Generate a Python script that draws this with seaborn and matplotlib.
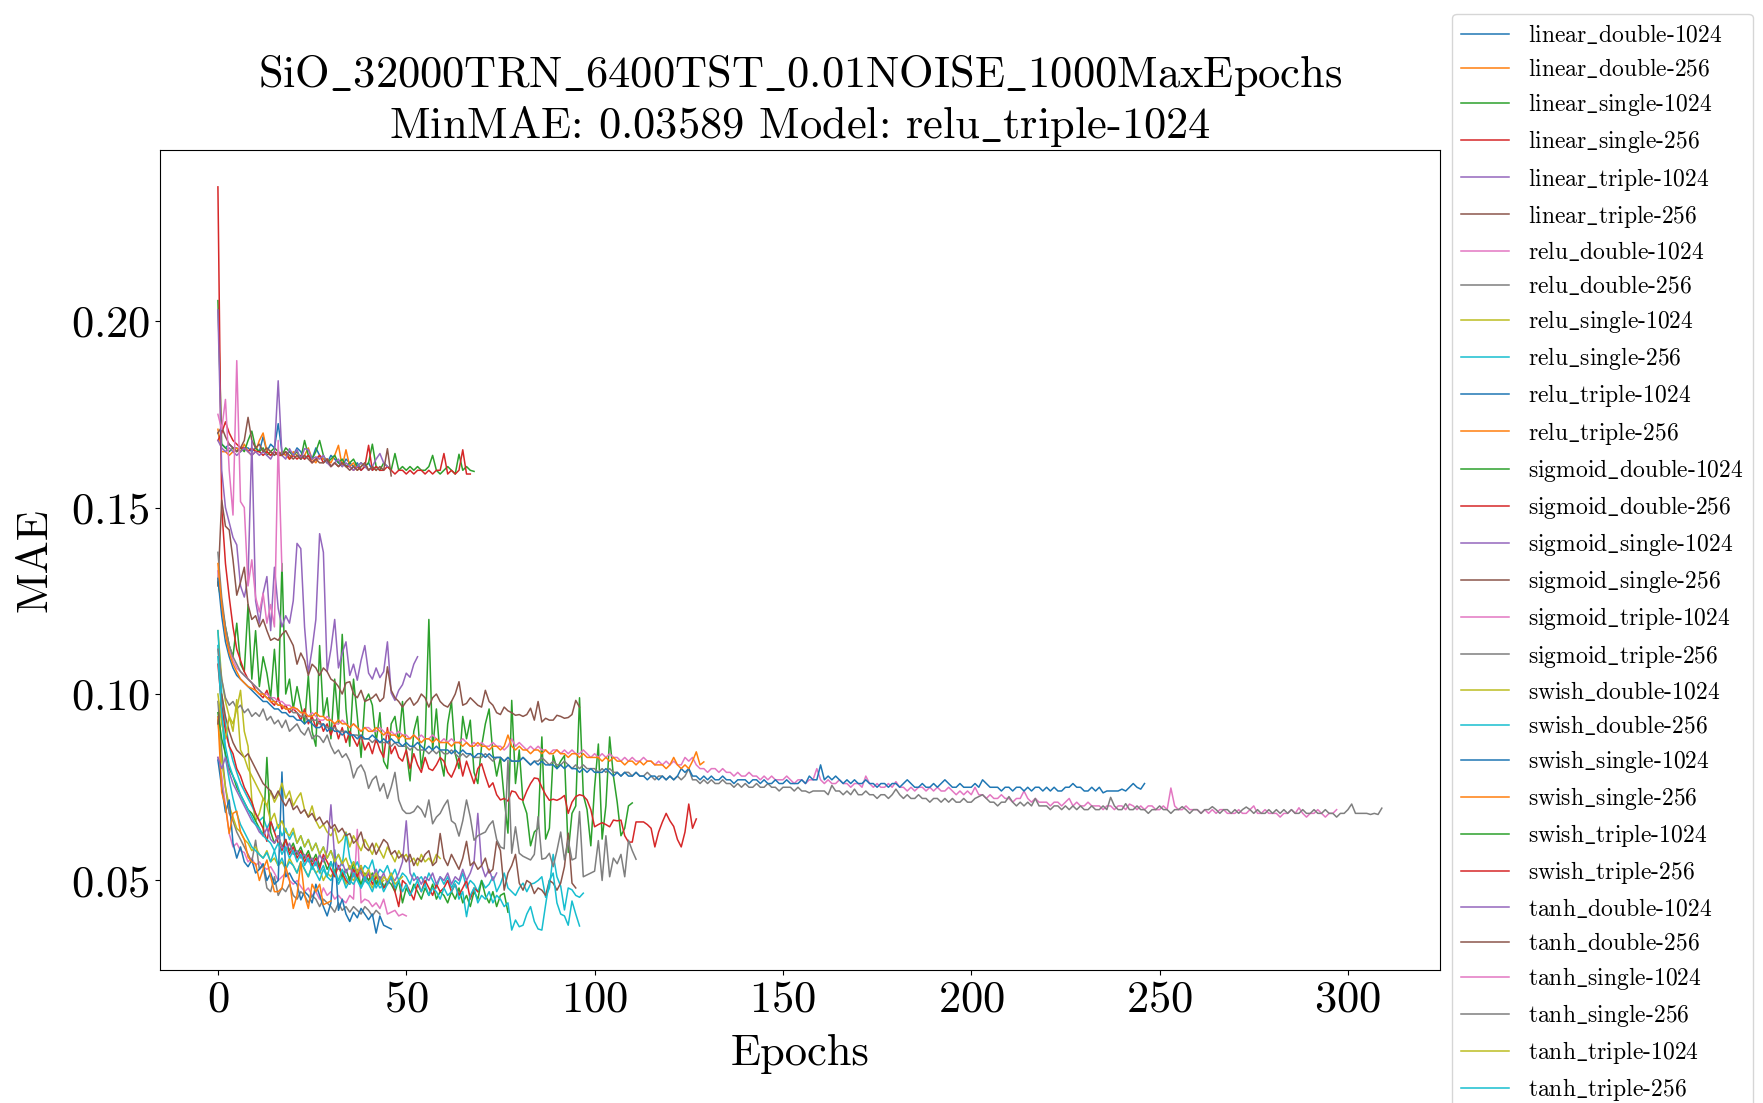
import matplotlib
matplotlib.use("Agg")
import matplotlib.pyplot as plt
from matplotlib.ticker import MultipleLocator
import numpy as np
import pandas as pd
import seaborn as sns

# ---------------------------------------------------------------- data (MAE per epoch)
linear_double_1024 = [0.170, 0.167, 0.166, 0.167, 0.166, 0.166, 0.165, 0.166, 0.166, 0.165,
                      0.166, 0.165, 0.169, 0.165, 0.167, 0.166, 0.1725, 0.165, 0.164, 0.165,
                      0.164, 0.166, 0.165, 0.163, 0.164, 0.163, 0.166, 0.164, 0.163, 0.162,
                      0.164, 0.163, 0.162, 0.161, 0.163, 0.162, 0.161, 0.162, 0.160, 0.161,
                      0.162, 0.160, 0.161, 0.160]
linear_double_256 = [0.171, 0.165, 0.165, 0.164, 0.165, 0.166, 0.165, 0.167, 0.165, 0.164,
                     0.165, 0.168, 0.170, 0.165, 0.164, 0.165, 0.164, 0.165, 0.164, 0.163,
                     0.165, 0.164, 0.163, 0.164, 0.166, 0.163, 0.162, 0.164, 0.163, 0.163,
                     0.162, 0.164, 0.1667, 0.161, 0.1655, 0.161, 0.162, 0.160, 0.161, 0.162,
                     0.160, 0.161, 0.160]
linear_single_1024 = [0.2055, 0.167, 0.166, 0.165, 0.166, 0.165, 0.166, 0.165, 0.168, 0.1705,
                      0.166, 0.165, 0.166, 0.164, 0.165, 0.166, 0.165, 0.164, 0.166, 0.165,
                      0.164, 0.165, 0.163, 0.168, 0.164, 0.163, 0.165, 0.168, 0.164, 0.162,
                      0.163, 0.164, 0.162, 0.163, 0.161, 0.162, 0.163, 0.161, 0.162, 0.161,
                      0.162, 0.167, 0.161, 0.160, 0.162, 0.161, 0.160, 0.1645, 0.160, 0.161,
                      0.160, 0.161, 0.160, 0.161, 0.160, 0.160, 0.161, 0.164, 0.160, 0.159,
                      0.160, 0.161, 0.160, 0.159, 0.1643, 0.160, 0.161, 0.160, 0.1597]
linear_single_256 = [0.168, 0.170, 0.173, 0.170, 0.168, 0.167, 0.166, 0.166, 0.165, 0.166,
                     0.165, 0.165, 0.164, 0.165, 0.164, 0.165, 0.164, 0.164, 0.165, 0.163,
                     0.164, 0.163, 0.164, 0.163, 0.164, 0.162, 0.163, 0.164, 0.162, 0.163,
                     0.161, 0.162, 0.161, 0.162, 0.161, 0.161, 0.160, 0.161, 0.160, 0.161,
                     0.1667, 0.160, 0.161, 0.160, 0.160, 0.161, 0.160, 0.159, 0.160, 0.160,
                     0.159, 0.160, 0.159, 0.160, 0.160, 0.159, 0.160, 0.159, 0.160, 0.160,
                     0.1645, 0.159, 0.160, 0.159, 0.160, 0.1655, 0.159, 0.159]
linear_triple_1024 = [0.168, 0.166, 0.165, 0.166, 0.165, 0.164, 0.165, 0.166, 0.165, 0.164,
                      0.165, 0.164, 0.165, 0.164, 0.163, 0.165, 0.184, 0.164, 0.163, 0.1658,
                      0.164, 0.1655, 0.163, 0.1658, 0.1655, 0.163, 0.1636, 0.163, 0.164, 0.162,
                      0.161, 0.162, 0.163, 0.161, 0.162, 0.161, 0.160, 0.161, 0.162, 0.161,
                      0.160, 0.161, 0.163, 0.1645, 0.162, 0.161]
linear_triple_256 = [0.170, 0.1716, 0.169, 0.167, 0.166, 0.165, 0.166, 0.168, 0.1742, 0.168,
                     0.166, 0.167, 0.165, 0.166, 0.165, 0.164, 0.165, 0.164, 0.165, 0.164,
                     0.163, 0.164, 0.163, 0.164, 0.163, 0.162, 0.163, 0.162, 0.162, 0.163,
                     0.161, 0.162, 0.161, 0.162, 0.161, 0.160, 0.161, 0.160, 0.161, 0.162,
                     0.160, 0.161, 0.160, 0.161, 0.160, 0.1658, 0.1585]
relu_double_1024 = [0.083, 0.078, 0.070, 0.0626, 0.059, 0.060, 0.058, 0.0575, 0.055, 0.056,
                    0.054, 0.055, 0.0537, 0.053, 0.0537, 0.052, 0.050, 0.051, 0.052, 0.050,
                    0.049, 0.050, 0.0484, 0.047, 0.048, 0.046, 0.047, 0.045, 0.048, 0.046,
                    0.047, 0.045, 0.046, 0.0448, 0.044, 0.046, 0.045, 0.0637, 0.044, 0.045,
                    0.0445, 0.043, 0.044, 0.0425, 0.045, 0.041, 0.0415, 0.042, 0.0405, 0.041,
                    0.0405]
relu_double_256 = [0.098, 0.085, 0.075, 0.068, 0.066, 0.063, 0.061, 0.059, 0.057, 0.055,
                   0.0608, 0.053, 0.054, 0.048, 0.047, 0.051, 0.046, 0.048, 0.047, 0.049,
                   0.046, 0.045, 0.047, 0.046, 0.044, 0.046, 0.045, 0.043, 0.045, 0.044,
                   0.043, 0.0415, 0.044, 0.042, 0.043, 0.0415, 0.043, 0.042, 0.041, 0.043,
                   0.042, 0.0405, 0.042, 0.041]
relu_single_1024 = [0.093, 0.082, 0.075, 0.070, 0.067, 0.064, 0.063, 0.061, 0.060, 0.058,
                    0.059, 0.057, 0.056, 0.058, 0.055, 0.056, 0.054, 0.055, 0.053, 0.056,
                    0.054, 0.052, 0.055, 0.053, 0.051, 0.054, 0.052, 0.053, 0.050, 0.052,
                    0.051, 0.053, 0.050, 0.052, 0.049, 0.051, 0.050, 0.052, 0.049, 0.051,
                    0.050, 0.048, 0.051, 0.049, 0.050]
relu_single_256 = [0.113, 0.094, 0.083, 0.077, 0.072, 0.068, 0.065, 0.063, 0.061, 0.059,
                   0.058, 0.057, 0.056, 0.0575, 0.055, 0.058, 0.054, 0.056, 0.053, 0.055,
                   0.054, 0.052, 0.055, 0.053, 0.051, 0.054, 0.052, 0.050, 0.053, 0.051,
                   0.050, 0.052, 0.049, 0.051, 0.048, 0.050, 0.049, 0.051, 0.048, 0.050,
                   0.049, 0.047, 0.050, 0.048, 0.049]
relu_triple_1024 = [0.0823, 0.075, 0.0683, 0.0716, 0.060, 0.056, 0.059, 0.055, 0.0537, 0.0555,
                    0.052, 0.053, 0.0545, 0.050, 0.052, 0.049, 0.050, 0.0791, 0.051, 0.052,
                    0.050, 0.049, 0.0448, 0.047, 0.046, 0.044, 0.049, 0.046, 0.043, 0.0405,
                    0.044, 0.0582, 0.042, 0.045, 0.041, 0.039, 0.0415, 0.040, 0.0425, 0.041,
                    0.0395, 0.041, 0.03589, 0.0405, 0.038, 0.0375, 0.037]
relu_triple_256 = [0.0939, 0.0737, 0.070, 0.0626, 0.068, 0.0686, 0.063, 0.061, 0.0563, 0.055,
                   0.0545, 0.050, 0.053, 0.0555, 0.051, 0.0470, 0.047, 0.048, 0.0537, 0.050,
                   0.0425, 0.046, 0.055, 0.046, 0.0425, 0.049, 0.047, 0.049, 0.0435, 0.044,
                   0.0445]
sigmoid_double_1024 = [0.130, 0.124, 0.118, 0.113, 0.110, 0.119, 0.108, 0.106, 0.124, 0.104,
                       0.117, 0.102, 0.110, 0.1056, 0.099, 0.112, 0.098, 0.135, 0.100, 0.104,
                       0.096, 0.102, 0.097, 0.092, 0.105, 0.090, 0.086, 0.113, 0.094, 0.099,
                       0.088, 0.104, 0.092, 0.116, 0.096, 0.086, 0.104, 0.094, 0.083, 0.098,
                       0.100, 0.097, 0.087, 0.095, 0.082, 0.080, 0.092, 0.094, 0.087, 0.098,
                       0.085, 0.0767, 0.090, 0.094, 0.080, 0.087, 0.120, 0.085, 0.096, 0.083,
                       0.078, 0.092, 0.098, 0.084, 0.080, 0.094, 0.088, 0.093, 0.079, 0.076,
                       0.086, 0.092, 0.096, 0.084, 0.078, 0.083, 0.072, 0.0627, 0.0983, 0.076,
                       0.085, 0.071, 0.068, 0.0593, 0.063, 0.064, 0.0885, 0.0611, 0.064, 0.0836,
                       0.080, 0.082, 0.0835, 0.0575, 0.068, 0.070, 0.099, 0.073, 0.069, 0.0593,
                       0.075, 0.0866, 0.0611, 0.070, 0.0885, 0.078, 0.071, 0.062, 0.064, 0.070,
                       0.0708]
sigmoid_double_256 = [0.236, 0.150, 0.135, 0.126, 0.118, 0.112, 0.109, 0.106, 0.104, 0.103,
                      0.101, 0.100, 0.099, 0.101, 0.098, 0.097, 0.099, 0.096, 0.097, 0.095,
                      0.096, 0.095, 0.093, 0.096, 0.092, 0.094, 0.091, 0.093, 0.090, 0.092,
                      0.089, 0.092, 0.088, 0.091, 0.087, 0.090, 0.088, 0.086, 0.089, 0.085,
                      0.087, 0.084, 0.088, 0.085, 0.083, 0.091, 0.084, 0.086, 0.083, 0.082,
                      0.085, 0.080, 0.084, 0.081, 0.079, 0.083, 0.080, 0.0795, 0.081, 0.083,
                      0.082, 0.079, 0.0777, 0.080, 0.083, 0.078, 0.082, 0.079, 0.076, 0.080,
                      0.0813, 0.078, 0.075, 0.0762, 0.073, 0.0716, 0.072, 0.0713, 0.074, 0.0737,
                      0.072, 0.0715, 0.074, 0.076, 0.0775, 0.0773, 0.075, 0.073, 0.0715, 0.0718,
                      0.0715, 0.072, 0.0728, 0.068, 0.071, 0.0725, 0.073, 0.0727, 0.0716, 0.069,
                      0.0644, 0.065, 0.0655, 0.065, 0.0644, 0.0662, 0.066, 0.0662, 0.062, 0.0603,
                      0.0603, 0.0657, 0.0657, 0.0657, 0.065, 0.064, 0.059, 0.063, 0.0657, 0.068,
                      0.066, 0.0645, 0.061, 0.059, 0.063, 0.0705, 0.064, 0.0665]
sigmoid_single_1024 = [0.203, 0.160, 0.150, 0.146, 0.142, 0.140, 0.129, 0.126, 0.131, 0.168,
                       0.125, 0.119, 0.127, 0.1315, 0.117, 0.134, 0.123, 0.118, 0.121, 0.119,
                       0.125, 0.1404, 0.139, 0.118, 0.1056, 0.112, 0.120, 0.143, 0.138, 0.106,
                       0.112, 0.120, 0.107, 0.111, 0.114, 0.105, 0.108, 0.1037, 0.109, 0.113,
                       0.1056, 0.104, 0.107, 0.1044, 0.106, 0.114, 0.1003, 0.0983, 0.101, 0.1025,
                       0.1056, 0.1045, 0.108, 0.110]
sigmoid_single_256 = [0.129, 0.152, 0.145, 0.144, 0.136, 0.1265, 0.130, 0.134, 0.124, 0.120,
                      0.121, 0.118, 0.120, 0.117, 0.1144, 0.115, 0.1144, 0.116, 0.117, 0.115,
                      0.113, 0.108, 0.111, 0.109, 0.105, 0.108, 0.107, 0.105, 0.107, 0.106,
                      0.104, 0.1033, 0.102, 0.100, 0.103, 0.1033, 0.100, 0.099, 0.101, 0.098,
                      0.0985, 0.099, 0.100, 0.098, 0.099, 0.1073, 0.101, 0.099, 0.098, 0.0965,
                      0.098, 0.099, 0.097, 0.098, 0.100, 0.099, 0.0965, 0.099, 0.100, 0.098,
                      0.097, 0.0965, 0.098, 0.100, 0.1033, 0.097, 0.0975, 0.099, 0.098, 0.097,
                      0.0965, 0.101, 0.098, 0.097, 0.095, 0.0945, 0.0965, 0.0955, 0.095, 0.0943,
                      0.0945, 0.094, 0.0945, 0.0962, 0.093, 0.098, 0.0925, 0.0935, 0.093, 0.093,
                      0.0943, 0.094, 0.0935, 0.0937, 0.0945, 0.0983, 0.0965]
sigmoid_triple_1024 = [0.133, 0.124, 0.117, 0.112, 0.109, 0.107, 0.106, 0.105, 0.104, 0.103,
                       0.102, 0.101, 0.100, 0.100, 0.099, 0.099, 0.098, 0.098, 0.097, 0.097,
                       0.096, 0.096, 0.095, 0.095, 0.094, 0.095, 0.094, 0.093, 0.093, 0.094,
                       0.093, 0.092, 0.092, 0.093, 0.092, 0.091, 0.092, 0.091, 0.090, 0.091,
                       0.091, 0.090, 0.090, 0.091, 0.090, 0.089, 0.090, 0.089, 0.090, 0.089,
                       0.089, 0.088, 0.089, 0.088, 0.089, 0.088, 0.088, 0.089, 0.088, 0.087,
                       0.088, 0.087, 0.088, 0.087, 0.087, 0.088, 0.087, 0.086, 0.087, 0.086,
                       0.087, 0.086, 0.086, 0.087, 0.086, 0.086, 0.085, 0.086, 0.088, 0.086,
                       0.087, 0.086, 0.085, 0.086, 0.085, 0.086, 0.085, 0.085, 0.084, 0.085,
                       0.085, 0.084, 0.085, 0.084, 0.085, 0.084, 0.084, 0.085, 0.084, 0.083,
                       0.084, 0.083, 0.084, 0.083, 0.084, 0.083, 0.083, 0.082, 0.083, 0.082,
                       0.083, 0.082, 0.082, 0.083, 0.082, 0.082, 0.081, 0.082, 0.081, 0.082,
                       0.081, 0.082, 0.081, 0.081, 0.083, 0.082, 0.083, 0.081, 0.080, 0.080,
                       0.079, 0.080, 0.080, 0.079, 0.080, 0.079, 0.079, 0.078, 0.079, 0.078,
                       0.078, 0.079, 0.078, 0.078, 0.077, 0.078, 0.077, 0.078, 0.077, 0.077,
                       0.077, 0.078, 0.077, 0.076, 0.077, 0.077, 0.076, 0.077, 0.077, 0.080,
                       0.077, 0.076, 0.077, 0.076, 0.076, 0.077, 0.076, 0.076, 0.075, 0.076,
                       0.076, 0.075, 0.078, 0.076, 0.075, 0.076, 0.075, 0.075, 0.076, 0.075,
                       0.0765, 0.075, 0.075, 0.074, 0.075, 0.074, 0.075, 0.075, 0.074, 0.075,
                       0.074, 0.075, 0.074, 0.074, 0.075, 0.074, 0.073, 0.074, 0.073, 0.074,
                       0.073, 0.075, 0.073, 0.073, 0.072, 0.073, 0.072, 0.072, 0.073, 0.072,
                       0.072, 0.071, 0.072, 0.072, 0.074, 0.072, 0.071, 0.072, 0.071, 0.071,
                       0.071, 0.070, 0.071, 0.071, 0.070, 0.071, 0.072, 0.070, 0.071, 0.070,
                       0.070, 0.071, 0.070, 0.070, 0.070, 0.069, 0.070, 0.070, 0.069, 0.070,
                       0.070, 0.069, 0.0705, 0.070, 0.069, 0.070, 0.069, 0.070, 0.070, 0.069,
                       0.069, 0.070, 0.069, 0.0748, 0.070, 0.069, 0.069, 0.070, 0.069, 0.069,
                       0.069, 0.068, 0.069, 0.068, 0.069, 0.068, 0.069, 0.069, 0.068, 0.068,
                       0.068, 0.069, 0.068, 0.068, 0.069, 0.070, 0.068, 0.068, 0.069, 0.068,
                       0.068, 0.068, 0.067, 0.068, 0.068, 0.069, 0.068, 0.0695, 0.068, 0.067,
                       0.068, 0.068, 0.069, 0.068, 0.067, 0.068, 0.068, 0.069]
sigmoid_triple_256 = [0.138, 0.126, 0.118, 0.113, 0.110, 0.108, 0.106, 0.105, 0.104, 0.103,
                      0.102, 0.101, 0.100, 0.099, 0.099, 0.098, 0.097, 0.097, 0.096, 0.096,
                      0.095, 0.095, 0.094, 0.094, 0.093, 0.093, 0.093, 0.092, 0.092, 0.091,
                      0.091, 0.091, 0.090, 0.090, 0.090, 0.089, 0.089, 0.089, 0.088, 0.088,
                      0.088, 0.087, 0.088, 0.087, 0.087, 0.087, 0.086, 0.087, 0.086, 0.086,
                      0.086, 0.085, 0.086, 0.085, 0.085, 0.085, 0.084, 0.085, 0.084, 0.085,
                      0.084, 0.084, 0.085, 0.084, 0.083, 0.084, 0.083, 0.084, 0.083, 0.083,
                      0.083, 0.084, 0.083, 0.082, 0.083, 0.083, 0.082, 0.083, 0.082, 0.082,
                      0.082, 0.083, 0.082, 0.081, 0.082, 0.082, 0.083, 0.082, 0.081, 0.082,
                      0.081, 0.081, 0.082, 0.081, 0.080, 0.081, 0.080, 0.081, 0.080, 0.080,
                      0.080, 0.079, 0.080, 0.079, 0.080, 0.079, 0.079, 0.078, 0.079, 0.079,
                      0.078, 0.079, 0.078, 0.078, 0.079, 0.078, 0.077, 0.078, 0.078, 0.077,
                      0.078, 0.077, 0.078, 0.077, 0.078, 0.080, 0.077, 0.077, 0.076, 0.077,
                      0.076, 0.077, 0.076, 0.076, 0.077, 0.076, 0.076, 0.075, 0.076, 0.075,
                      0.076, 0.075, 0.075, 0.076, 0.075, 0.075, 0.076, 0.075, 0.075, 0.074,
                      0.075, 0.075, 0.075, 0.074, 0.075, 0.074, 0.074, 0.0735, 0.074, 0.074,
                      0.074, 0.074, 0.073, 0.0755, 0.074, 0.074, 0.073, 0.074, 0.073, 0.0745,
                      0.073, 0.073, 0.074, 0.073, 0.073, 0.072, 0.073, 0.073, 0.072, 0.073,
                      0.0745, 0.073, 0.072, 0.073, 0.072, 0.072, 0.073, 0.072, 0.072, 0.071,
                      0.072, 0.072, 0.071, 0.072, 0.071, 0.072, 0.071, 0.071, 0.072, 0.071,
                      0.071, 0.072, 0.0725, 0.073, 0.072, 0.071, 0.071, 0.070, 0.071, 0.071,
                      0.0725, 0.071, 0.070, 0.071, 0.070, 0.071, 0.070, 0.072, 0.070, 0.070,
                      0.070, 0.069, 0.070, 0.070, 0.069, 0.070, 0.069, 0.070, 0.069, 0.070,
                      0.069, 0.069, 0.070, 0.069, 0.069, 0.070, 0.069, 0.0723, 0.070, 0.069,
                      0.069, 0.0706, 0.069, 0.069, 0.070, 0.069, 0.069, 0.068, 0.069, 0.069,
                      0.070, 0.069, 0.069, 0.068, 0.069, 0.069, 0.0698, 0.069, 0.068, 0.069,
                      0.069, 0.068, 0.069, 0.069, 0.0698, 0.069, 0.068, 0.069, 0.069, 0.068,
                      0.069, 0.068, 0.069, 0.0697, 0.069, 0.068, 0.069, 0.068, 0.068, 0.069,
                      0.068, 0.069, 0.068, 0.069, 0.068, 0.069, 0.068, 0.068, 0.069, 0.068,
                      0.068, 0.069, 0.068, 0.068, 0.069, 0.068, 0.068, 0.067, 0.068, 0.068,
                      0.069, 0.0705, 0.068, 0.068, 0.068, 0.068, 0.0677, 0.068, 0.0677, 0.0694]
swish_double_1024 = [0.117, 0.104, 0.098, 0.094, 0.092, 0.096, 0.101, 0.090, 0.086, 0.0716,
                     0.066, 0.068, 0.072, 0.070, 0.074, 0.071, 0.073, 0.0761, 0.072, 0.074,
                     0.070, 0.072, 0.0735, 0.069, 0.067, 0.070, 0.066, 0.064, 0.065, 0.063,
                     0.062, 0.064, 0.060, 0.061, 0.063, 0.059, 0.062, 0.060, 0.058, 0.061,
                     0.059, 0.057, 0.060, 0.058, 0.056, 0.059, 0.057, 0.055, 0.058, 0.056,
                     0.057, 0.055, 0.056, 0.054, 0.057, 0.055, 0.056, 0.0545, 0.057, 0.0559]
swish_double_256 = [0.117, 0.100, 0.092, 0.086, 0.082, 0.079, 0.076, 0.074, 0.072, 0.070,
                    0.068, 0.066, 0.067, 0.064, 0.066, 0.063, 0.065, 0.062, 0.064, 0.061,
                    0.063, 0.060, 0.062, 0.059, 0.061, 0.058, 0.060, 0.057, 0.059, 0.056,
                    0.058, 0.055, 0.057, 0.054, 0.0626, 0.056, 0.053, 0.055, 0.052, 0.054,
                    0.053, 0.0555, 0.051, 0.053, 0.052, 0.054, 0.051, 0.053, 0.050, 0.052,
                    0.051, 0.049, 0.052, 0.050, 0.051, 0.049, 0.052, 0.050, 0.048, 0.051,
                    0.049, 0.051, 0.048, 0.050, 0.049, 0.052, 0.048, 0.050, 0.049, 0.047,
                    0.050, 0.048, 0.049, 0.051, 0.047, 0.049, 0.052, 0.048, 0.047, 0.046,
                    0.048, 0.0493, 0.047, 0.049, 0.0493, 0.050, 0.051, 0.0455, 0.048, 0.057,
                    0.051, 0.0485, 0.0421, 0.048, 0.0475, 0.046, 0.0455, 0.0466]
swish_single_1024 = [0.131, 0.121, 0.114, 0.110, 0.107, 0.105, 0.104, 0.103, 0.102, 0.101,
                     0.100, 0.099, 0.098, 0.098, 0.097, 0.096, 0.096, 0.095, 0.095, 0.094,
                     0.094, 0.093, 0.093, 0.092, 0.093, 0.092, 0.091, 0.091, 0.092, 0.090,
                     0.091, 0.090, 0.090, 0.089, 0.090, 0.089, 0.089, 0.088, 0.089, 0.088,
                     0.088, 0.089, 0.088, 0.087, 0.088, 0.087, 0.088, 0.087, 0.087, 0.086,
                     0.087, 0.086, 0.086, 0.087, 0.086, 0.085, 0.086, 0.085, 0.086, 0.085,
                     0.085, 0.085, 0.084, 0.085, 0.084, 0.085, 0.084, 0.084, 0.083, 0.084,
                     0.084, 0.083, 0.084, 0.083, 0.083, 0.083, 0.082, 0.083, 0.082, 0.082,
                     0.082, 0.083, 0.082, 0.081, 0.082, 0.081, 0.082, 0.081, 0.081, 0.081,
                     0.080, 0.081, 0.080, 0.081, 0.080, 0.080, 0.079, 0.080, 0.079, 0.080,
                     0.079, 0.079, 0.079, 0.080, 0.079, 0.078, 0.079, 0.078, 0.079, 0.078,
                     0.078, 0.079, 0.078, 0.078, 0.077, 0.078, 0.078, 0.077, 0.078, 0.077,
                     0.078, 0.077, 0.078, 0.080, 0.079, 0.080, 0.078, 0.078, 0.077, 0.078,
                     0.077, 0.078, 0.077, 0.077, 0.078, 0.077, 0.077, 0.076, 0.077, 0.077,
                     0.077, 0.076, 0.077, 0.077, 0.076, 0.077, 0.076, 0.076, 0.077, 0.076,
                     0.076, 0.077, 0.076, 0.076, 0.076, 0.077, 0.076, 0.078, 0.077, 0.077,
                     0.081, 0.077, 0.078, 0.077, 0.078, 0.077, 0.076, 0.077, 0.076, 0.077,
                     0.076, 0.076, 0.077, 0.076, 0.076, 0.075, 0.076, 0.076, 0.075, 0.076,
                     0.076, 0.075, 0.076, 0.077, 0.076, 0.075, 0.075, 0.076, 0.075, 0.075,
                     0.076, 0.075, 0.076, 0.077, 0.076, 0.075, 0.075, 0.076, 0.075, 0.075,
                     0.075, 0.076, 0.075, 0.077, 0.076, 0.075, 0.075, 0.075, 0.074, 0.075,
                     0.075, 0.074, 0.075, 0.075, 0.074, 0.075, 0.074, 0.075, 0.075, 0.074,
                     0.075, 0.074, 0.075, 0.074, 0.074, 0.075, 0.075, 0.076, 0.075, 0.075,
                     0.074, 0.074, 0.075, 0.074, 0.075, 0.0735, 0.074, 0.074, 0.074, 0.074,
                     0.0745, 0.074, 0.075, 0.076, 0.075, 0.0745, 0.076]
swish_single_256 = [0.135, 0.124, 0.116, 0.111, 0.108, 0.106, 0.104, 0.103, 0.102, 0.1015,
                    0.101, 0.100, 0.100, 0.099, 0.098, 0.098, 0.097, 0.097, 0.096, 0.096,
                    0.0965, 0.096, 0.095, 0.095, 0.094, 0.094, 0.095, 0.094, 0.094, 0.093,
                    0.093, 0.092, 0.093, 0.092, 0.092, 0.091, 0.092, 0.091, 0.090, 0.091,
                    0.090, 0.090, 0.091, 0.090, 0.089, 0.090, 0.089, 0.089, 0.088, 0.089,
                    0.088, 0.088, 0.089, 0.088, 0.087, 0.088, 0.088, 0.087, 0.088, 0.087,
                    0.087, 0.087, 0.086, 0.087, 0.087, 0.086, 0.087, 0.086, 0.086, 0.087,
                    0.086, 0.086, 0.085, 0.086, 0.086, 0.085, 0.086, 0.089, 0.086, 0.085,
                    0.086, 0.085, 0.085, 0.084, 0.085, 0.085, 0.084, 0.085, 0.084, 0.084,
                    0.085, 0.084, 0.084, 0.083, 0.084, 0.084, 0.083, 0.084, 0.083, 0.083,
                    0.083, 0.083, 0.082, 0.083, 0.082, 0.083, 0.082, 0.082, 0.081, 0.082,
                    0.082, 0.081, 0.082, 0.081, 0.082, 0.082, 0.081, 0.081, 0.081, 0.080,
                    0.081, 0.083, 0.081, 0.080, 0.081, 0.080, 0.082, 0.0845, 0.081, 0.0818]
swish_triple_1024 = [0.095, 0.088, 0.084, 0.080, 0.078, 0.075, 0.073, 0.071, 0.069, 0.068,
                     0.066, 0.064, 0.062, 0.083, 0.063, 0.060, 0.062, 0.059, 0.061, 0.058,
                     0.060, 0.057, 0.059, 0.056, 0.058, 0.055, 0.057, 0.054, 0.056, 0.053,
                     0.055, 0.052, 0.054, 0.051, 0.053, 0.050, 0.055, 0.051, 0.049, 0.052,
                     0.050, 0.052, 0.049, 0.051, 0.048, 0.050, 0.049, 0.047, 0.050, 0.044,
                     0.048, 0.046, 0.049, 0.047, 0.045, 0.048, 0.046, 0.049, 0.045, 0.047,
                     0.046, 0.044, 0.047, 0.045, 0.048, 0.044, 0.046, 0.043, 0.047, 0.045,
                     0.050, 0.046, 0.044, 0.047, 0.043, 0.046, 0.0466, 0.0415]
swish_triple_256 = [0.108, 0.097, 0.090, 0.086, 0.084, 0.080, 0.078, 0.075, 0.073, 0.071,
                    0.068, 0.066, 0.064, 0.0605, 0.066, 0.063, 0.060, 0.058, 0.061, 0.057,
                    0.059, 0.056, 0.058, 0.055, 0.057, 0.054, 0.056, 0.053, 0.057, 0.055,
                    0.053, 0.051, 0.054, 0.052, 0.050, 0.049, 0.053, 0.051, 0.054, 0.050,
                    0.052, 0.049, 0.051, 0.050, 0.048, 0.049, 0.051, 0.047, 0.043, 0.050,
                    0.049, 0.047, 0.0448, 0.049, 0.047, 0.050, 0.048, 0.046, 0.049, 0.047,
                    0.048, 0.050, 0.047, 0.049, 0.046, 0.048, 0.050, 0.045, 0.048, 0.047]
tanh_double_1024 = [0.083, 0.080, 0.083, 0.079, 0.076, 0.074, 0.072, 0.070, 0.068, 0.066,
                    0.065, 0.063, 0.062, 0.064, 0.061, 0.060, 0.062, 0.059, 0.058, 0.060,
                    0.057, 0.058, 0.056, 0.057, 0.055, 0.056, 0.054, 0.057, 0.055, 0.058,
                    0.0703, 0.056, 0.053, 0.055, 0.052, 0.054, 0.051, 0.053, 0.052, 0.050,
                    0.052, 0.051, 0.053, 0.050, 0.052, 0.049, 0.051, 0.050, 0.052, 0.055,
                    0.066, 0.052, 0.050, 0.051, 0.049, 0.051, 0.050, 0.052, 0.049, 0.051,
                    0.050, 0.052, 0.049, 0.051, 0.050, 0.053, 0.050, 0.052, 0.055, 0.068,
                    0.054, 0.051, 0.053, 0.050, 0.052]
tanh_double_256 = [0.092, 0.100, 0.094, 0.090, 0.087, 0.085, 0.084, 0.083, 0.084, 0.082,
                   0.080, 0.078, 0.076, 0.075, 0.074, 0.072, 0.074, 0.0716, 0.070, 0.072,
                   0.069, 0.070, 0.068, 0.069, 0.067, 0.068, 0.066, 0.067, 0.065, 0.066,
                   0.064, 0.065, 0.063, 0.064, 0.062, 0.0626, 0.060, 0.061, 0.063, 0.059,
                   0.058, 0.060, 0.057, 0.059, 0.061, 0.060, 0.057, 0.058, 0.056, 0.057,
                   0.055, 0.057, 0.054, 0.056, 0.055, 0.057, 0.058, 0.054, 0.055, 0.0626,
                   0.056, 0.054, 0.057, 0.055, 0.053, 0.056, 0.0605, 0.054, 0.055, 0.053,
                   0.054, 0.056, 0.052, 0.053, 0.0605, 0.058, 0.0474, 0.052, 0.054, 0.057,
                   0.0493, 0.0474, 0.050, 0.0493, 0.0465, 0.048, 0.0474, 0.046, 0.050, 0.0493,
                   0.0474, 0.0493, 0.0537, 0.0627, 0.0493, 0.048]
tanh_single_1024 = [0.175, 0.171, 0.179, 0.160, 0.148, 0.1894, 0.1516, 0.150, 0.129, 0.136,
                    0.126, 0.122, 0.127, 0.119, 0.124, 0.118, 0.168, 0.133]
tanh_single_256 = [0.112, 0.104, 0.099, 0.097, 0.098, 0.096, 0.097, 0.095, 0.096, 0.094,
                   0.095, 0.094, 0.096, 0.093, 0.094, 0.092, 0.093, 0.091, 0.093, 0.090,
                   0.091, 0.092, 0.090, 0.089, 0.091, 0.088, 0.089, 0.0885, 0.087, 0.089,
                   0.086, 0.084, 0.085, 0.083, 0.084, 0.082, 0.0775, 0.080, 0.081, 0.079,
                   0.0747, 0.077, 0.078, 0.074, 0.076, 0.072, 0.075, 0.079, 0.0716, 0.069,
                   0.068, 0.068, 0.0685, 0.070, 0.069, 0.067, 0.0716, 0.0652, 0.067, 0.068,
                   0.070, 0.0716, 0.066, 0.0652, 0.0619, 0.066, 0.0716, 0.067, 0.0608, 0.062,
                   0.0625, 0.063, 0.0648, 0.066, 0.061, 0.059, 0.0585, 0.0823, 0.0573, 0.0644,
                   0.0573, 0.0565, 0.056, 0.0555, 0.057, 0.0671, 0.0557, 0.056, 0.0573, 0.0537,
                   0.058, 0.063, 0.0555, 0.0608, 0.0555, 0.056, 0.0685, 0.051, 0.0515, 0.052,
                   0.0525, 0.0607, 0.050, 0.062, 0.051, 0.056, 0.0545, 0.057, 0.051, 0.0608,
                   0.058, 0.0557]
tanh_triple_1024 = [0.100, 0.092, 0.088, 0.094, 0.090, 0.0985, 0.085, 0.083, 0.080, 0.078,
                    0.076, 0.074, 0.072, 0.070, 0.066, 0.068, 0.064, 0.066, 0.063, 0.062,
                    0.064, 0.060, 0.062, 0.059, 0.061, 0.058, 0.060, 0.057, 0.059, 0.056,
                    0.058, 0.055, 0.057, 0.0545, 0.056, 0.053, 0.055, 0.052, 0.054, 0.051,
                    0.053, 0.050, 0.052, 0.049, 0.051, 0.050, 0.052, 0.049, 0.050, 0.051]
tanh_triple_256 = [0.110, 0.095, 0.086, 0.081, 0.078, 0.076, 0.073, 0.071, 0.069, 0.067,
                   0.065, 0.064, 0.062, 0.061, 0.060, 0.058, 0.060, 0.057, 0.059, 0.056,
                   0.058, 0.055, 0.057, 0.054, 0.056, 0.053, 0.055, 0.052, 0.054, 0.051,
                   0.055, 0.052, 0.050, 0.053, 0.051, 0.049, 0.052, 0.050, 0.048, 0.051,
                   0.049, 0.051, 0.048, 0.050, 0.047, 0.049, 0.051, 0.048, 0.050, 0.047,
                   0.049, 0.046, 0.048, 0.050, 0.047, 0.049, 0.046, 0.048, 0.047, 0.045,
                   0.048, 0.046, 0.047, 0.049, 0.045, 0.047, 0.0403, 0.046, 0.048, 0.044,
                   0.046, 0.045, 0.047, 0.044, 0.046, 0.045, 0.043, 0.044, 0.0367, 0.0394,
                   0.0376, 0.038, 0.041, 0.043, 0.039, 0.037, 0.0367, 0.0435, 0.050, 0.052,
                   0.044, 0.041, 0.0405, 0.038, 0.0445, 0.041, 0.0378]

model_names = [
    "linear_double-1024", "linear_double-256", "linear_single-1024", "linear_single-256",
    "linear_triple-1024", "linear_triple-256", "relu_double-1024", "relu_double-256",
    "relu_single-1024", "relu_single-256", "relu_triple-1024", "relu_triple-256",
    "sigmoid_double-1024", "sigmoid_double-256", "sigmoid_single-1024", "sigmoid_single-256",
    "sigmoid_triple-1024", "sigmoid_triple-256", "swish_double-1024", "swish_double-256",
    "swish_single-1024", "swish_single-256", "swish_triple-1024", "swish_triple-256",
    "tanh_double-1024", "tanh_double-256", "tanh_single-1024", "tanh_single-256",
    "tanh_triple-1024", "tanh_triple-256",
]
model_curves = [
    linear_double_1024, linear_double_256, linear_single_1024, linear_single_256,
    linear_triple_1024, linear_triple_256, relu_double_1024, relu_double_256,
    relu_single_1024, relu_single_256, relu_triple_1024, relu_triple_256,
    sigmoid_double_1024, sigmoid_double_256, sigmoid_single_1024, sigmoid_single_256,
    sigmoid_triple_1024, sigmoid_triple_256, swish_double_1024, swish_double_256,
    swish_single_1024, swish_single_256, swish_triple_1024, swish_triple_256,
    tanh_double_1024, tanh_double_256, tanh_single_1024, tanh_single_256,
    tanh_triple_1024, tanh_triple_256,
]
title_run = "SiO_32000TRN_6400TST_0.01NOISE_1000MaxEpochs"

# ---------------------------------------------------------------- long-form table
frames = []
for name, curve in zip(model_names, model_curves):
    frames.append(pd.DataFrame({"model": name,
                                "epoch": np.arange(len(curve)),
                                "mae": curve}))
df = pd.concat(frames, ignore_index=True)

best_idx = int(np.argmin([min(c) for c in model_curves]))
best_name = model_names[best_idx]
best_mae = min(model_curves[best_idx])

# ---------------------------------------------------------------- style
plt.rcParams["font.family"] = ["cmr10", "DejaVu Serif"]
plt.rcParams["mathtext.fontset"] = "cm"
plt.rcParams["axes.formatter.use_mathtext"] = True
plt.rcParams["axes.unicode_minus"] = False


def tex_text(s):
    # cmr10 has a dot accent in the underscore slot, so typeset "_" as \_
    return s.replace("_", r"$\_$")


tab10 = sns.color_palette("tab10", 10)
palette = [tab10[i % 10] for i in range(len(model_names))]

fig = plt.figure(figsize=(17.63, 11.03), dpi=100)
ax = fig.add_axes([0.0906, 0.1202, 0.7262, 0.7442])

sns.lineplot(data=df, x="epoch", y="mae", hue="model", hue_order=model_names,
             palette=palette, linewidth=1.1, estimator=None, ax=ax)

title_lines = [title_run, f"MinMAE: {best_mae:.5f} Model: {best_name}"]
title = ax.set_title("\n".join(tex_text(t) for t in title_lines),
                     fontsize=32, pad=8)
ax.set_xlabel("Epochs", fontsize=32, labelpad=10)
ax.set_ylabel("MAE", fontsize=32, labelpad=11)
ax.yaxis.set_major_locator(MultipleLocator(0.05))
ax.tick_params(axis="both", labelsize=32)

handles, labels = ax.get_legend_handles_labels()
leg = ax.legend(handles, [tex_text(l) for l in labels], loc="upper left",
                bbox_to_anchor=(1452 / 1763, 1 - 13.5 / 1103),
                bbox_transform=fig.transFigure, borderaxespad=0,
                fontsize=17, labelspacing=0.43, frameon=True)

try:
    fig.canvas.draw()
except Exception:
    title.set_text("\n".join(title_lines))
    for txt, lab in zip(leg.get_texts(), labels):
        txt.set_text(lab)

fig.savefig("out.png", dpi=100)
